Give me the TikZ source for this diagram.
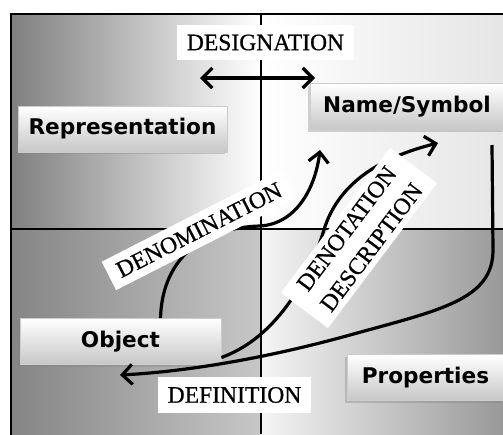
\documentclass[tikz,border=0pt]{standalone}
\usepackage{fontspec}
\setmainfont{Liberation Serif}
\setsansfont{DejaVu Sans}
\newfontfamily\relfont{Liberation Serif}[FakeBold=0.7]
\usetikzlibrary{shadows,arrows.meta}

\tikzstyle{concept} = [rectangle, draw=black!20, top color=white, bottom color=black!22,
    font=\sffamily\bfseries\fontsize{10.8}{13}\selectfont, text height=8pt, text depth=2.5pt,
    minimum height=23pt, inner sep=0pt,
    drop shadow={shadow xshift=-1pt, shadow yshift=-1.2pt, opacity=0.35}]
\tikzstyle{relation} = [rectangle, fill=white, align=center,
    font=\relfont\fontsize{11.8}{15.5}\selectfont, inner xsep=5pt, inner ysep=5pt]
\tikzstyle{line} = [draw, line width=1.6pt, ->]
\tikzstyle{axis} = [draw, line width=1.2pt]

\begin{document}
\begin{tikzpicture}[x=0.5pt, y=-0.5pt, >={Straight Barb[length=5pt,width=10pt]}]
    \useasboundingbox (0,0) rectangle (503,434);
    \clip (0,0) rectangle (503,434);

    % quadrants
    \shade[left color=black!50, middle color=black!18, right color=white] (11,14) rectangle (261,229);
    \shade[left color=white, right color=black!10] (261,14) rectangle (503,229);
    \shade[left color=black!48, right color=black!22] (11,229) rectangle (261,434);
    \shade[left color=black!4, right color=black!40] (261,229) rectangle (503,434);
    \draw[line width=1.2pt] (11,14) rectangle (520,450);
    \path[axis] (11,229) -- (503,229);
    \path[axis] (261,14) -- (261,434);

    \node [concept, minimum width=104.5pt] (Repr) at (122.5,129) {Representation};
    \node [concept, minimum width=97pt] (Name) at (407,106.5) {Name/Symbol};
    \node [concept, minimum width=100.5pt] (Object) at (120.5,341.5) {Object};
    \node [concept, minimum width=78.5pt] (Props) at (425.5,377.5) {Properties};

    \coordinate (desigL) at (200,78);
    \coordinate (desigR) at (315,78);
    \coordinate (denomEnd) at (320,150);
    \coordinate (denotEnd) at (438,143);
    \coordinate (defStart) at (492,145);
    \coordinate (defEnd) at (120,375);

    \path [line, <->] (desigL) -- (desigR);
    \path [line] ([xshift=20pt]Object.north) .. controls (162,265) and (195,228) .. (260,226)
        .. controls (295,224) and (315,190) .. (denomEnd);
    \path [line] ([yshift=-8pt]Object.east) .. controls (270,340) and (305,290) .. (323,233)
        .. controls (335,190) and (370,160) .. (denotEnd);
    \path [line] (defStart) -- (493,250) .. controls (493,300) and (440,310) .. (350,335)
        .. controls (260,360) and (180,372) .. (defEnd);

    \node [relation] (Desig) at (265.5,42.5) {DESIGNATION};
    \node [relation, rotate=27, inner ysep=4pt] (Denom) at (199,230) {DENOMINATION};
    \node [relation, rotate=53, inner xsep=7pt, inner ysep=3pt] (Denot) at (359,238) {DENOTATION\\DESCRIPTION};
    \node [relation] (Defin) at (234.5,395) {DEFINITION};
\end{tikzpicture}
\end{document}
